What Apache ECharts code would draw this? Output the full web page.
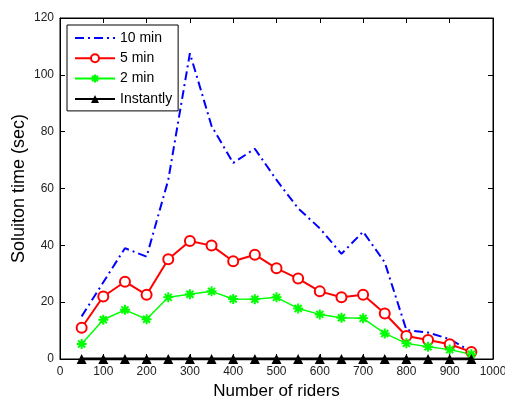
<!DOCTYPE html>
<html><head><meta charset="utf-8">
<script src="https://cdn.jsdelivr.net/npm/echarts@6/dist/echarts.min.js"></script>
<style>html,body{margin:0;padding:0;background:#fff}#c{width:505px;height:399px}</style>
</head><body><div id="c"></div>
<script>
const riders = [50,100,150,200,250,300,350,400,450,500,550,600,650,700,750,800,850,900,950];
const min10 = [15,27,39,36,63,107.6,82,69,74,63,53,46,37,44.8,34,10.2,9.3,7,2.6];
const min5 = [11,22,27.2,22.6,35.1,41.5,39.9,34.4,36.7,31.9,28.3,23.8,21.7,22.6,16,8.1,6.7,5.2,2.5];
const min2 = [5.3,13.8,17.3,14,21.7,22.8,23.8,21.1,21,21.7,17.8,15.7,14.5,14.3,9,5.5,4.3,3.3,1.7];
const instantly = [0,0,0,0,0,0,0,0,0,0,0,0,0,0,0,0,0,0,0];
const seriesNames = ['10 min','5 min','2 min','Instantly'];
const xLabel = 'Number of riders';
const yLabel = 'Soluiton time (sec)';

const pair = a => a.map((v,i)=>[riders[i], v]);
const font = 'Liberation Sans, Arial, sans-serif';
const star = 'path://M5,0 L5,10 M0,5 L10,5 M1.5,1.5 L8.5,8.5 M8.5,1.5 L1.5,8.5';
const tick = {show:true,inside:true,length:5,lineStyle:{color:'#000',width:1}};
const chart = echarts.init(document.getElementById('c'));
chart.setOption({
  animation:false,
  textStyle:{fontFamily:font},
  grid:{left:60,right:12,top:18,bottom:40,show:true,borderColor:'#000',borderWidth:1,
        containLabel:false, outerBoundsMode:'none'},
  legend:{
    orient:'vertical', left:67, top:25,
    data:[{name:seriesNames[0], itemStyle:{opacity:0}}, seriesNames[1], seriesNames[2], seriesNames[3]],
    backgroundColor:'#fff', borderColor:'#000', borderWidth:1, borderRadius:0,
    padding:[6,6,5,7], itemWidth:40, itemHeight:10, itemGap:6.3,
    textStyle:{fontSize:14,color:'#000',fontFamily:font}
  },
  xAxis:[{
    type:'value', min:0, max:1000, interval:100,
    name:xLabel, nameLocation:'middle', nameGap:21,
    nameTextStyle:{fontSize:17,color:'#000'},
    axisLine:{onZero:false,lineStyle:{color:'#000'}},
    axisTick:tick,
    axisLabel:{fontSize:12,color:'#222',margin:7,formatter:v=>String(v)},
    splitLine:{show:false}
  },{
    type:'value', min:0, max:1000, interval:100, position:'top',
    axisLine:{onZero:false,lineStyle:{color:'#000'}},
    axisTick:tick,
    axisLabel:{show:false}, splitLine:{show:false}
  }],
  yAxis:[{
    type:'value', min:0, max:120, interval:20,
    name:yLabel, nameLocation:'middle', nameGap:32, nameMoveOverlap:false,
    nameTextStyle:{fontSize:18,color:'#000'},
    axisLine:{show:true,onZero:false,lineStyle:{color:'#000'}},
    axisTick:tick,
    axisLabel:{fontSize:12,color:'#222',margin:6},
    splitLine:{show:false}
  },{
    type:'value', min:0, max:120, interval:20, position:'right',
    axisLine:{show:true,onZero:false,lineStyle:{color:'#000'}},
    axisTick:tick,
    axisLabel:{show:false}, splitLine:{show:false}
  }],
  series:[
    {name:seriesNames[0], type:'line', data:pair(min10), symbol:'none', color:'#0000ff',
     lineStyle:{width:2,type:[9,4,2,4],color:'#0000ff'}},
    {name:seriesNames[1], type:'line', data:pair(min5), symbol:'emptyCircle', symbolSize:10, color:'#ff0000',
     lineStyle:{width:2,color:'#ff0000'}, itemStyle:{color:'#ff0000',borderColor:'#ff0000',borderWidth:1.5}},
    {name:seriesNames[2], type:'line', data:pair(min2), symbol:star, symbolSize:10, color:'#00ff00',
     lineStyle:{width:1.5,color:'#00ff00'}, itemStyle:{color:'#00ff00',borderColor:'#00ff00',borderWidth:2}},
    {name:seriesNames[3], type:'line', data:pair(instantly), symbol:'triangle', symbolSize:10, color:'#000',
     lineStyle:{width:3,color:'#000'}, itemStyle:{color:'#000'}, z:5}
  ]
});
</script></body></html>
